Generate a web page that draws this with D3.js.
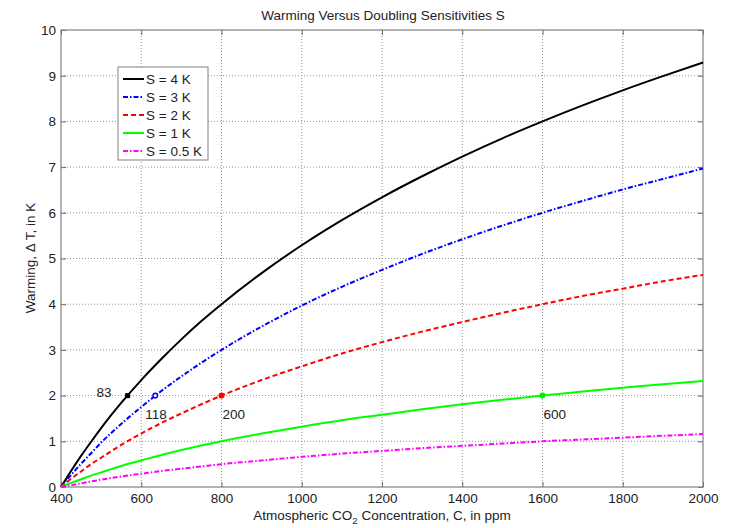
<!DOCTYPE html>
<html>
<head>
<meta charset="utf-8">
<script src="https://cdn.jsdelivr.net/npm/d3@7"></script>
<style>
  body { margin: 0; background: #fff; }
  svg { font-family: "Liberation Sans", Arial, sans-serif; }
</style>
</head>
<body>
<svg width="740" height="528"></svg>
<script>
var conc = [400, 410, 425, 450, 475, 500, 550, 600, 650, 700, 750, 800, 900, 1000,
            1100, 1200, 1300, 1400, 1500, 1600, 1700, 1800, 1900, 2000];

var warmS4 = [0, 0.14, 0.35, 0.68, 0.99, 1.29, 1.84, 2.34, 2.80, 3.23, 3.63, 4.00, 4.68, 5.29,
              5.84, 6.34, 6.80, 7.23, 7.63, 8.00, 8.35, 8.68, 8.99, 9.29];
var warmS3 = [0, 0.11, 0.26, 0.51, 0.74, 0.97, 1.38, 1.75, 2.10, 2.42, 2.72, 3.00, 3.51, 3.97,
              4.38, 4.75, 5.10, 5.42, 5.72, 6.00, 6.26, 6.51, 6.74, 6.97];
var warmS2 = [0, 0.07, 0.18, 0.34, 0.50, 0.64, 0.92, 1.17, 1.40, 1.61, 1.81, 2.00, 2.34, 2.64,
              2.92, 3.17, 3.40, 3.61, 3.81, 4.00, 4.18, 4.34, 4.50, 4.64];
var warmS1 = [0, 0.04, 0.09, 0.17, 0.25, 0.32, 0.46, 0.58, 0.70, 0.81, 0.91, 1.00, 1.17, 1.32,
              1.46, 1.58, 1.70, 1.81, 1.91, 2.00, 2.09, 2.17, 2.25, 2.32];
var warmS05 = [0, 0.02, 0.04, 0.08, 0.12, 0.16, 0.23, 0.29, 0.35, 0.40, 0.45, 0.50, 0.58, 0.66,
               0.73, 0.79, 0.85, 0.90, 0.95, 1.00, 1.04, 1.08, 1.12, 1.16];

var seriesNames = ['S = 4 K', 'S = 3 K', 'S = 2 K', 'S = 1 K', 'S = 0.5 K'];

// points where each curve reaches 2 K, and their labels
var markC = [566, 635, 800, 1600];
var markT = [2, 2, 2, 2];
var markLabels = ['83', '118', '200', '600'];

var xTicks = [400, 600, 800, 1000, 1200, 1400, 1600, 1800, 2000];
var yTicks = [0, 1, 2, 3, 4, 5, 6, 7, 8, 9, 10];

var svg = d3.select('svg');
var plotL = 61, plotT = 30, plotR = 703, plotB = 487;
var fs = 13.5;

var x = d3.scaleLinear().domain([400, 2000]).range([plotL, plotR]);
var y = d3.scaleLinear().domain([0, 10]).range([plotB, plotT]);

var styles = [
  { color: '#000000', dash: null },
  { color: '#0000ff', dash: '5,2,1.5,2' },
  { color: '#ff0000', dash: '5,3' },
  { color: '#00ff00', dash: null },
  { color: '#ff00ff', dash: '5,2,1.5,2' }
];

// grid
var grid = svg.append('g').attr('stroke', '#777').attr('stroke-width', 0.8)
  .attr('stroke-dasharray', '1,2');
grid.selectAll('line.gx').data(xTicks.slice(1, -1)).enter().append('line')
  .attr('x1', d => x(d)).attr('x2', d => x(d)).attr('y1', plotT).attr('y2', plotB);
grid.selectAll('line.gy').data(yTicks.slice(1, -1)).enter().append('line')
  .attr('x1', plotL).attr('x2', plotR).attr('y1', d => y(d)).attr('y2', d => y(d));

// axes with inward ticks
function styleAxis(g) {
  g.select('.domain').remove();
  g.selectAll('.tick line').attr('stroke', '#666');
}
var fmt = d3.format('d');
svg.append('g').attr('transform', 'translate(0,' + plotB + ')')
  .call(d3.axisBottom(x).tickValues(xTicks).tickSizeInner(-5).tickSizeOuter(0).tickPadding(6).tickFormat(fmt))
  .call(styleAxis);
svg.append('g').attr('transform', 'translate(0,' + plotT + ')')
  .call(d3.axisTop(x).tickValues(xTicks).tickSizeInner(-5).tickSizeOuter(0).tickFormat(''))
  .call(styleAxis);
svg.append('g').attr('transform', 'translate(' + plotL + ',0)')
  .call(d3.axisLeft(y).tickValues(yTicks).tickSizeInner(-5).tickSizeOuter(0).tickPadding(5).tickFormat(fmt))
  .call(styleAxis);
svg.append('g').attr('transform', 'translate(' + plotR + ',0)')
  .call(d3.axisRight(y).tickValues(yTicks).tickSizeInner(-5).tickSizeOuter(0).tickFormat(''))
  .call(styleAxis);

svg.selectAll('.tick text').attr('font-family', '"Liberation Sans", Arial, sans-serif')
  .attr('font-size', fs).attr('fill', '#222');

svg.append('rect').attr('x', plotL).attr('y', plotT)
  .attr('width', plotR - plotL).attr('height', plotB - plotT)
  .attr('fill', 'none').attr('stroke', '#808080').attr('stroke-width', 1.2);

// curves
var allSeries = [warmS4, warmS3, warmS2, warmS1, warmS05];
var line = d3.line().x(d => x(d[0])).y(d => y(d[1])).curve(d3.curveMonotoneX);
allSeries.forEach(function(vals, i) {
  svg.append('path')
    .datum(conc.map((c, j) => [c, vals[j]]))
    .attr('d', line)
    .attr('fill', 'none')
    .attr('stroke', styles[i].color)
    .attr('stroke-width', 2)
    .attr('stroke-dasharray', styles[i].dash);
});

// markers
svg.append('rect').attr('x', x(markC[0]) - 2.5).attr('y', y(markT[0]) - 2.5)
  .attr('width', 5).attr('height', 5).attr('fill', '#000');
svg.append('circle').attr('cx', x(markC[1])).attr('cy', y(markT[1])).attr('r', 2.3)
  .attr('fill', '#fff').attr('stroke', '#0000ff').attr('stroke-width', 1.5);
svg.append('circle').attr('cx', x(markC[2])).attr('cy', y(markT[2])).attr('r', 3)
  .attr('fill', '#ff0000');
svg.append('circle').attr('cx', x(markC[3])).attr('cy', y(markT[3])).attr('r', 3)
  .attr('fill', '#00ee00');

var labelOffsets = [[-31, 1], [-10, 23], [1, 23], [1, 23]];
markLabels.forEach(function(t, i) {
  svg.append('text')
    .attr('x', x(markC[i]) + labelOffsets[i][0])
    .attr('y', y(markT[i]) + labelOffsets[i][1])
    .attr('font-size', fs).attr('fill', '#222')
    .text(t);
});

// legend
var leg = svg.append('g');
leg.append('rect').attr('x', 118).attr('y', 67).attr('width', 90).attr('height', 93)
  .attr('fill', '#fff').attr('stroke', '#808080').attr('stroke-width', 1);
seriesNames.forEach(function(name, i) {
  var ly = 79 + i * 18;
  leg.append('line').attr('x1', 123).attr('x2', 144).attr('y1', ly).attr('y2', ly)
    .attr('stroke', styles[i].color).attr('stroke-width', 2)
    .attr('stroke-dasharray', styles[i].dash);
  leg.append('text').attr('x', 146).attr('y', ly + 5)
    .attr('font-size', fs).attr('fill', '#222').text(name);
});

// title and axis labels
svg.append('text').attr('x', 383).attr('y', 20).attr('text-anchor', 'middle')
  .attr('font-size', fs).attr('fill', '#222')
  .text('Warming Versus Doubling Sensitivities S');

var xl = svg.append('text').attr('x', 382).attr('y', 520).attr('text-anchor', 'middle')
  .attr('font-size', fs).attr('fill', '#222');
xl.append('tspan').text('Atmospheric CO');
xl.append('tspan').attr('font-size', 9.5).attr('dy', 4).text('2');
xl.append('tspan').attr('dy', -4).text(' Concentration, C, in ppm');

svg.append('text').attr('transform', 'translate(35,258) rotate(-90)')
  .attr('text-anchor', 'middle').attr('font-size', fs).attr('fill', '#222')
  .text('Warming, \u0394 T,  in K');
</script>
</body>
</html>
